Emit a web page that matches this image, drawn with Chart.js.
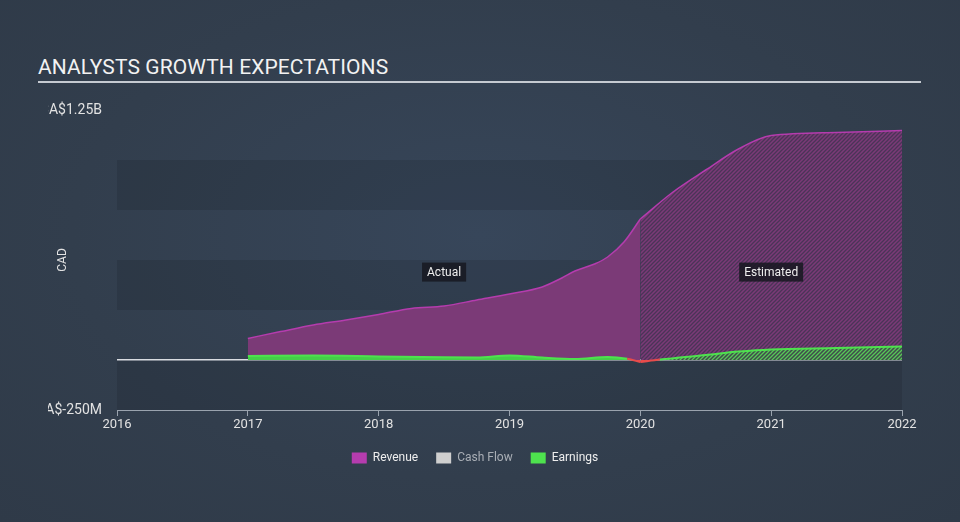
<!DOCTYPE html>
<html>
<head>
<meta charset="utf-8">
<script src="https://cdn.jsdelivr.net/npm/chart.js@4.4.0/dist/chart.umd.min.js"></script>
<style>
  html, body { margin: 0; padding: 0; }
  body {
    width: 960px; height: 522px; overflow: hidden; position: relative;
    background: radial-gradient(ellipse at 50% 45%, #37465a 0%, #323e4d 60%, #2f3a48 100%);
    font-family: Roboto, "Noto Sans", sans-serif;
  }
  #title {
    position: absolute; left: 38px; top: 55px;
    color: #f2f2f2; font-size: 21px; letter-spacing: 0.1px; white-space: nowrap;
  }
  #rule { position: absolute; left: 38px; top: 81px; width: 883px; height: 2px; background: #c5cad1; }
  #wrap { position: absolute; left: 47px; top: 0; width: 913px; height: 522px; overflow: hidden; }
  #chart { position: absolute; left: -47px; top: 0; }
</style>
</head>
<body>
<div id="title">ANALYSTS GROWTH EXPECTATIONS</div>
<div id="rule"></div>
<div id="wrap"><canvas id="chart" width="960" height="522"></canvas></div>
<script>
// revenue, CA$ (quarterly reads off the picture)
const revActualX = [2017, 2017.25, 2017.5, 2017.75, 2018, 2018.25, 2018.5, 2018.75, 2019, 2019.25, 2019.4, 2019.5, 2019.65, 2019.75, 2019.875, 2020];
const revActualY = [108e6, 142e6, 175e6, 200e6, 228e6, 258e6, 270e6, 300e6, 330e6, 365e6, 410e6, 445e6, 480e6, 515e6, 590e6, 705e6];
const revEstX = [2020, 2020.25, 2020.5, 2020.75, 2021, 2021.5, 2022];
const revEstY = [705e6, 840e6, 950e6, 1055e6, 1122e6, 1138e6, 1147e6];

// earnings, CA$
const earnActualX = [2017, 2017.5, 2018, 2018.5, 2018.75, 2019, 2019.25, 2019.5, 2019.75, 2019.9, 2020];
const earnActualY = [20e6, 22e6, 18e6, 14e6, 13e6, 23e6, 12e6, 5e6, 15e6, 6e6, -10e6];
const earnEstX = [2020, 2020.15, 2020.5, 2020.75, 2021, 2021.5, 2022];
const earnEstY = [-10e6, 2e6, 25e6, 42e6, 53e6, 60e6, 68e6];

const yTicks = [-250e6, 0, 250e6, 500e6, 750e6, 1000e6, 1250e6];
const xYears = [2016, 2017, 2018, 2019, 2020, 2021, 2022];
const legendNames = ['Revenue', 'Cash Flow', 'Earnings'];

const pts = (xs, ys) => xs.map((x, i) => ({ x, y: ys[i] }));

function hatch(base, line) {
  const c = document.createElement('canvas');
  c.width = 4; c.height = 4;
  const g = c.getContext('2d');
  g.fillStyle = base;
  g.fillRect(0, 0, 4, 4);
  g.strokeStyle = line;
  g.lineWidth = 1.3;
  g.beginPath();
  g.moveTo(-1, 5); g.lineTo(5, -1);
  g.moveTo(-3, 3); g.lineTo(3, -3);
  g.moveTo(1, 7); g.lineTo(7, 1);
  g.stroke();
  return g.createPattern(c, 'repeat');
}

const REV = '#b53cae', REV_FILL = '#7b3a77';
const EARN = '#4ee24e', EARN_FILL = '#44cf48', NEG = '#e84b4b';

// darker horizontal bands behind the plot
const bands = {
  id: 'bands',
  beforeDraw(chart) {
    const { ctx, chartArea: a, scales: { y } } = chart;
    ctx.save();
    ctx.fillStyle = 'rgba(0,0,0,0.1)';
    [[750e6, 1000e6], [250e6, 500e6], [-250e6, 0]].forEach(([lo, hi]) => {
      const t = y.getPixelForValue(hi), b = y.getPixelForValue(lo);
      ctx.fillRect(a.left, t, a.right - a.left, b - t);
    });
    ctx.restore();
  }
};

// "Actual" / "Estimated" tags
const tags = {
  id: 'tags',
  afterDatasetsDraw(chart) {
    const { ctx, scales: { x, y } } = chart;
    ctx.save();
    ctx.font = '12px Roboto';
    ctx.textBaseline = 'middle';
    ctx.textAlign = 'center';
    [['Actual', 2018.5], ['Estimated', 2021]].forEach(([t, v]) => {
      const cx = x.getPixelForValue(v), cy = y.getPixelForValue(437e6);
      const w = ctx.measureText(t).width + 10;
      ctx.fillStyle = 'rgba(22,24,32,0.85)';
      ctx.fillRect(cx - w / 2, cy - 10, w, 19);
      ctx.fillStyle = '#eeeeee';
      ctx.fillText(t, cx, cy);
    });
    ctx.restore();
  }
};

const negSeg = c => (c.p0.parsed.y < 0 || c.p1.parsed.y < 0) ? NEG : undefined;

new Chart(document.getElementById('chart'), {
  type: 'line',
  data: {
    datasets: [
      { label: 'Earnings', data: pts(earnActualX, earnActualY), order: 1,
        borderColor: EARN, borderWidth: 2, pointRadius: 0, cubicInterpolationMode: 'monotone',
        fill: { target: 'origin', above: EARN_FILL, below: NEG }, segment: { borderColor: negSeg } },
      { label: 'Earnings est', data: pts(earnEstX, earnEstY), order: 1,
        borderColor: EARN, borderWidth: 2, pointRadius: 0, cubicInterpolationMode: 'monotone',
        fill: { target: 'origin', above: hatch('#3f4c4b', '#58c858'), below: NEG }, segment: { borderColor: negSeg } },
      { label: 'Revenue', data: pts(revActualX, revActualY), order: 2,
        borderColor: REV, backgroundColor: REV_FILL, borderWidth: 1.5, pointRadius: 0,
        cubicInterpolationMode: 'monotone', fill: 'origin' },
      { label: 'Revenue est', data: pts(revEstX, revEstY), order: 2,
        borderColor: REV, backgroundColor: hatch('#7b3a77', '#4a3457'), borderWidth: 1.5, pointRadius: 0,
        cubicInterpolationMode: 'monotone', fill: 'origin' }
    ]
  },
  options: {
    responsive: false,
    devicePixelRatio: 1,
    animation: false,
    layout: { padding: { left: 48, right: 58, top: 110, bottom: 48 } },
    scales: {
      x: {
        type: 'linear', min: 2016, max: 2022,
        afterBuildTicks: s => { s.ticks = xYears.map(v => ({ value: v })); },
        afterFit: s => { s.height = 24; },
        ticks: { color: '#e2e2e2', font: { size: 13, family: 'Roboto' }, padding: 1, callback: v => String(v) },
        grid: { drawOnChartArea: false, drawTicks: true, tickLength: 6, color: '#9aa3ae' },
        border: { display: true, color: '#9aa3ae', width: 1 }
      },
      y: {
        min: -250e6, max: 1250e6,
        afterBuildTicks: s => { s.ticks = yTicks.map(v => ({ value: v })); },
        afterFit: s => { s.width = 69; },
        ticks: {
          color: '#e2e2e2', font: { size: 14, family: 'Roboto' }, padding: 15,
          callback: v => v === 1250e6 ? 'CA$1.25B' : v === -250e6 ? 'CA$-250M' : ''
        },
        grid: {
          drawTicks: false,
          color: c => c.tick && c.tick.value === 0 ? '#d9dce1' : 'rgba(0,0,0,0)',
          lineWidth: c => c.tick && c.tick.value === 0 ? 1.5 : 0
        },
        border: { display: false },
        title: { display: true, text: 'CAD', color: '#e2e2e2', font: { size: 12, family: 'Roboto' }, padding: { top: 8 } }
      }
    },
    plugins: {
      tooltip: { enabled: false },
      legend: {
        position: 'bottom',
        onClick: () => {},
        labels: {
          boxWidth: 15, boxHeight: 11, padding: 18,
          font: { size: 12, family: 'Roboto' },
          generateLabels: () => legendNames.map((n, i) => ({
            text: n,
            fillStyle: [REV, '#cfcfcf', EARN][i],
            strokeStyle: 'rgba(0,0,0,0)',
            lineWidth: 0,
            fontColor: i === 1 ? '#a9aeb5' : '#eeeeee',
            hidden: false
          }))
        }
      }
    }
  },
  plugins: [bands, tags]
});
</script>
</body>
</html>
